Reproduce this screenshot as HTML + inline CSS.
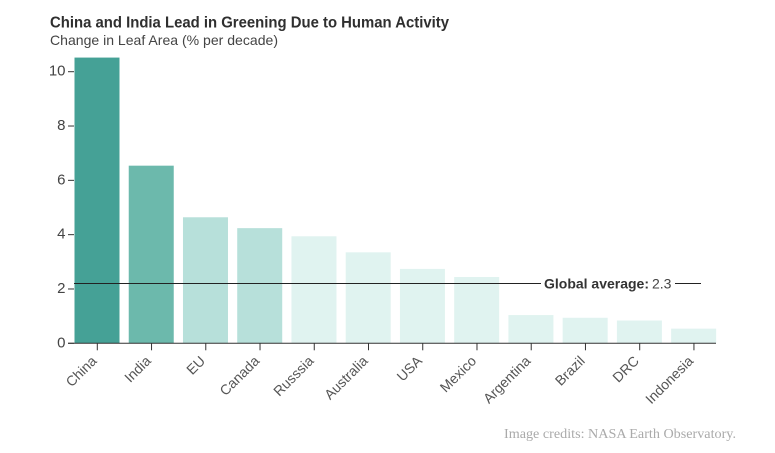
<!DOCTYPE html>
<html>
<head>
<meta charset="utf-8">
<style>
html,body{margin:0;padding:0;background:#fff;width:775px;height:453px;overflow:hidden}
svg{display:block}
text{font-family:"Liberation Sans",sans-serif}
</style>
</head>
<body>
<svg id="chart" width="775" height="453" viewBox="0 0 775 453" xmlns="http://www.w3.org/2000/svg">
  <text x="50" y="27.5" font-size="16" font-weight="bold" fill="#2f2f2f" textLength="399" lengthAdjust="spacingAndGlyphs">China and India Lead in Greening Due to Human Activity</text>
  <text x="50" y="45" font-size="14" fill="#444" textLength="228" lengthAdjust="spacingAndGlyphs">Change in Leaf Area (% per decade)</text>
  <g id="bars"></g>
  <g id="y-axis"></g>
  <g id="x-axis"></g>
  <g id="reference"></g>
  <text x="736" y="438" text-anchor="end" font-size="13.5" fill="#aaaaaa" style="font-family:'Liberation Serif',serif" textLength="232" lengthAdjust="spacingAndGlyphs">Image credits: NASA Earth Observatory.</text>
</svg>
<script>
const categories = ["China","India","EU","Canada","Russsia","Australia","USA","Mexico","Argentina","Brazil","DRC","Indonesia"];
const leafAreaChange = [10.52,6.54,4.64,4.24,3.94,3.35,2.74,2.44,1.04,0.94,0.84,0.54];
const barColors = ["#45a196","#6cb9ac","#b7e0da","#b7e0da","#e0f3f0","#e0f3f0","#e0f3f0","#e0f3f0","#e0f3f0","#e0f3f0","#e0f3f0","#e0f3f0"];
const yTicks = [0,2,4,6,8,10];
const globalLineLevel = [2.2];
const globalLabel = ["Global average:","2.3"];

const NS = "http://www.w3.org/2000/svg";
function make(parent, tag, attrs, txt){
  const el = document.createElementNS(NS, tag);
  for (const k in attrs) el.setAttribute(k, attrs[k]);
  if (txt !== undefined) el.textContent = txt;
  parent.appendChild(el);
  return el;
}
const yZero = 343.3, unit = 27.16, xFirst = 97, step = 54.24, barW = 45;
function yScale(v){ return yZero - v * unit; }
function xScale(i){ return xFirst + i * step; }

const barsG = document.getElementById("bars");
const xG = document.getElementById("x-axis");
const yG = document.getElementById("y-axis");
const refG = document.getElementById("reference");

categories.forEach(function(c, i){
  const top = yScale(leafAreaChange[i]);
  const bar = make(barsG, "rect", {x: xScale(i) - barW / 2, y: top, width: barW, height: yZero - top, fill: barColors[i]});
  
  
  const tick = make(xG, "line", {x1: xScale(i) + 0.3, x2: xScale(i) + 0.3, y1: yZero, y2: yZero + 7, stroke: "#333", "stroke-width": 1});
  
  
  const lx = xScale(i) + 0.5, ly = yZero + 18.5;
  const label = make(xG, "text", {x: lx, y: ly, "text-anchor": "end", "font-size": 14, fill: "#555", transform: "rotate(-45 " + lx + " " + ly + ")"}, c);
  
  
});

const baseline = make(xG, "line", {x1: 68, x2: 716, y1: yZero, y2: yZero, stroke: "#333", "stroke-width": 1});



yTicks.forEach(function(t){
  const y = yScale(t);
  const tick = make(yG, "line", {x1: 68, x2: 74, y1: y, y2: y, stroke: "#333", "stroke-width": 1});
  
  
  const label = make(yG, "text", {x: 65.5, y: y + 4, "text-anchor": "end", "font-size": 15, fill: "#444"}, String(t));
  
  
});

const gy = yScale(globalLineLevel[0]);
const refLeft = make(refG, "line", {x1: 74, x2: 541, y1: gy, y2: gy, stroke: "#222", "stroke-width": 1});


const refRight = make(refG, "line", {x1: 675, x2: 701, y1: gy, y2: gy, stroke: "#222", "stroke-width": 1});


const refTitle = make(refG, "text", {x: 544, y: gy + 5, "font-size": 14, "font-weight": "bold", fill: "#333", textLength: 105, lengthAdjust: "spacingAndGlyphs"}, globalLabel[0]);


const refValue = make(refG, "text", {x: 652, y: gy + 5, "font-size": 14, fill: "#444"}, globalLabel[1]);


</script>
</body>
</html>
